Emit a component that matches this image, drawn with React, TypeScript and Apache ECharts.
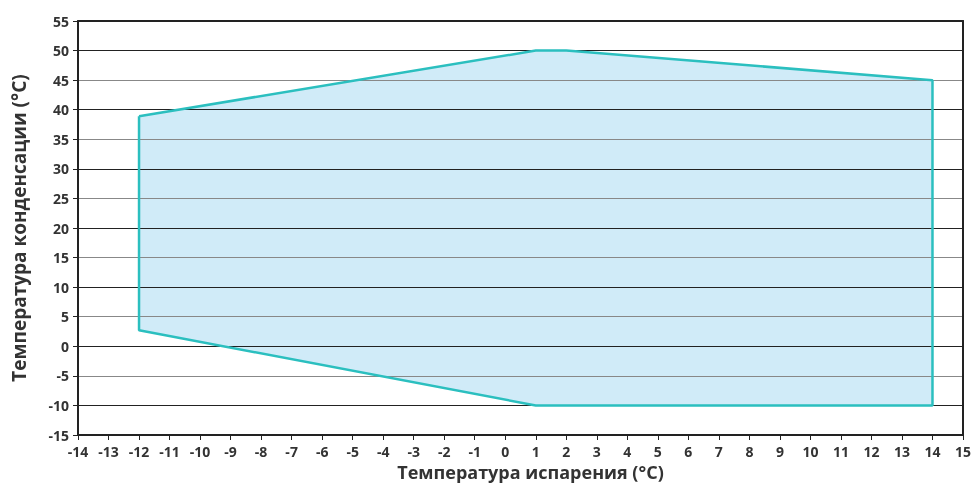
import React, { useEffect, useRef } from "react";
import * as echarts from "echarts";

const evapTemps = [-12, 1, 2, 14, 14, 1, -12];
const condTemps = [38.9, 50, 50, 45, -10, -10, 2.7];
const xTitle = "Температура испарения (°C)";
const yTitle = "Температура конденсации (°C)";

const FONT = "'Open Sans', 'DejaVu Sans', sans-serif";

export default function App() {
  const ref = useRef<HTMLDivElement>(null);
  useEffect(() => {
    if (!ref.current) return;
    const chart = echarts.init(ref.current, null, { renderer: "svg" });
    const pts = evapTemps.map((x, i) => [x, condTemps[i]]);
    const closed = [...pts, pts[0]];
    const labelStyle = { color: "#333", fontSize: 14, fontWeight: "bold" as const, fontFamily: FONT };
    chart.setOption({
      animation: false,
      grid: { left: 78, right: 10, top: 21, bottom: 53, containLabel: false, outerBoundsMode: "none" },
      xAxis: [
        {
          type: "value", min: -14, max: 15, interval: 1, z: 2,
          name: xTitle, nameLocation: "middle", nameGap: 25,
          nameTextStyle: { color: "#333", fontSize: 18, fontWeight: "bold", fontFamily: FONT, padding: [0, 0, 0, 20] },
          axisLine: { show: true, onZero: false, lineStyle: { color: "#222", width: 2 } },
          axisTick: { show: true, length: 5, lineStyle: { color: "#222" } },
          axisLabel: { ...labelStyle, margin: 9 },
          splitLine: { show: false },
        },
        {
          type: "value", min: -14, max: 15, position: "top", z: 2,
          axisLine: { show: true, onZero: false, lineStyle: { color: "#222", width: 2 } },
          axisTick: { show: false }, axisLabel: { show: false }, splitLine: { show: false },
        },
      ],
      yAxis: [
        {
          type: "value", min: -15, max: 55, interval: 5, z: 2,
          name: yTitle, nameLocation: "middle", nameGap: 50, nameRotate: 90,
          nameTextStyle: { color: "#333", fontSize: 19, fontWeight: "bold", fontFamily: FONT },
          axisLine: { show: true, onZero: false, lineStyle: { color: "#222", width: 2 } },
          axisTick: { show: true, length: 5, lineStyle: { color: "#222" } },
          axisLabel: { ...labelStyle, margin: 9 },
          splitLine: { show: true, lineStyle: { color: ["#888", "#222"], width: 1.2 } },
        },
        {
          type: "value", min: -15, max: 55, position: "right", z: 2,
          axisLine: { show: true, onZero: false, lineStyle: { color: "#222", width: 2 } },
          axisTick: { show: false }, axisLabel: { show: false }, splitLine: { show: false },
        },
      ],
      series: [
        {
          type: "custom",
          z: 1,
          data: [0],
          renderItem: (_params: any, api: any) => ({
            type: "polygon",
            shape: { points: pts.map((p) => api.coord(p)) },
            style: { fill: "#d0ebf8", stroke: "none" },
          }),
          silent: true,
        },
        {
          type: "line",
          z: 3,
          data: closed,
          showSymbol: false,
          lineStyle: { color: "#2bbfbf", width: 2.5 },
          silent: true,
        },
      ],
    });
    return () => chart.dispose();
  }, []);
  return (
    <div
      ref={ref}
      style={{ position: "fixed", left: 0, top: 0, width: 973, height: 488 }}
    />
  );
}
